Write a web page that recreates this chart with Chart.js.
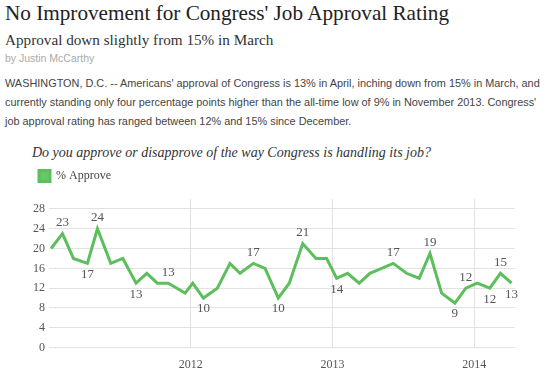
<!DOCTYPE html>
<html>
<head>
<meta charset="utf-8">
<script src="https://cdn.jsdelivr.net/npm/chart.js@4.4.1/dist/chart.umd.min.js"></script>
<style>
  html, body { margin: 0; padding: 0; background: #fff; }
  body { width: 545px; height: 383px; position: relative; overflow: hidden; }
  #title { position: absolute; left: 5px; top: 1px; font-family: "Liberation Serif", serif; font-size: 21.2px; color: #222; white-space: nowrap; }
  #sub { position: absolute; left: 5px; top: 31px; font-family: "Liberation Serif", serif; font-size: 15.2px; color: #333; white-space: nowrap; }
  #by { position: absolute; left: 5px; top: 52px; font-family: "Liberation Sans", sans-serif; font-size: 10.5px; color: #aaa; white-space: nowrap; }
  #para { position: absolute; left: 5px; top: 74px; font-family: "Liberation Sans", sans-serif; font-size: 10.9px; line-height: 19px; color: #444; white-space: nowrap; }
  #q { position: absolute; left: 32px; top: 145px; font-family: "Liberation Serif", serif; font-style: italic; font-size: 14px; color: #333; white-space: nowrap; }
  #wrap { position: absolute; left: 0; top: 153px; width: 545px; height: 230px; }
</style>
</head>
<body>
<div id="title">No Improvement for Congress' Job Approval Rating</div>
<div id="sub">Approval down slightly from 15% in March</div>
<div id="by">by Justin McCarthy</div>
<div id="para">WASHINGTON, D.C. -- Americans' approval of Congress is 13% in April, inching down from 15% in March, and<br>currently standing only four percentage points higher than the all-time low of 9% in November 2013. Congress'<br>job approval rating has ranged between 12% and 15% since December.</div>
<div id="q">Do you approve or disapprove of the way Congress is handling its job?</div>
<div id="wrap"><canvas id="c" width="545" height="230"></canvas></div>
<script>
// Poll dates as months since Jan 1, 2011 (fractional)
const pollMonths = [0.18, 1.14, 2.07, 3.25, 4.10, 5.23, 6.25, 7.37, 8.28, 9.17, 10.10, 11.52,
  12.17, 13.07, 14.25, 15.32, 16.17, 17.30, 18.29, 19.41, 20.34, 21.48, 22.60, 23.50,
  24.35, 25.28, 26.26, 27.17, 28.16, 29.14, 30.27, 31.34, 32.25, 33.24, 34.36, 35.29,
  36.25, 37.32, 38.22, 39.16];
const approve = [20, 23, 18, 17, 24, 17, 18, 13, 15, 13, 13, 11,
  13, 10, 12, 17, 15, 17, 16, 10, 13, 21, 18, 18,
  14, 15, 13, 15, 16, 17, 15, 14, 19, 11, 9, 12,
  13, 12, 15, 13];
const labeledIdx  = [1, 3, 4, 7, 10, 13, 17, 19, 21, 24, 29, 32, 34, 35, 37, 38, 39];
const labeledSide = ['up','down','up','down','up','down','up','down','up','down','up','up','down','up','down','up','down'];
const yearTickValues = [12, 24, 36];
const yearTickLabels = ['2012', '2013', '2014'];
const yTickValues = [0, 4, 8, 12, 16, 20, 24, 28];

const green = 'rgb(92,190,92)';

const pointLabels = {
  id: 'pointLabels',
  afterDatasetsDraw(chart) {
    const ctx = chart.ctx;
    const meta = chart.getDatasetMeta(0);
    ctx.save();
    ctx.font = '13px "Liberation Serif", serif';
    ctx.fillStyle = '#555';
    ctx.textAlign = 'center';
    ctx.textBaseline = 'middle';
    labeledIdx.forEach((idx, k) => {
      const p = meta.data[idx];
      const dy = labeledSide[k] === 'up' ? -11 : 11;
      ctx.fillText(String(approve[idx]), p.x, p.y + dy);
    });
    ctx.restore();
  }
};

const legendGap = {
  id: 'legendGap',
  beforeLayout(chart) {
    const lg = chart.legend;
    if (lg && !lg._gapPatched) {
      const orig = lg.fit;
      lg.fit = function () { orig.call(this); this.height += 7; };
      lg._gapPatched = true;
    }
  }
};

new Chart(document.getElementById('c'), {
  type: 'line',
  data: {
    datasets: [{
      label: '% Approve',
      data: pollMonths.map((m, i) => ({ x: m, y: approve[i] })),
      borderColor: green,
      backgroundColor: 'rgb(102,199,102)',
      borderWidth: 3,
      pointRadius: 0,
      tension: 0,
      fill: false
    }]
  },
  options: {
    responsive: false,
    animation: false,
    layout: { padding: { left: 22, right: 30, top: 0, bottom: 1 } },
    plugins: {
      legend: {
        display: true,
        align: 'start',
        labels: {
          boxWidth: 11, boxHeight: 11, padding: 17,
          color: '#444',
          font: { family: '"Liberation Serif", serif', size: 12 }
        }
      },
      tooltip: { enabled: false }
    },
    scales: {
      x: {
        type: 'linear',
        min: 0, max: 39.45,
        afterBuildTicks(scale) { scale.ticks = yearTickValues.map(v => ({ value: v })); },
        ticks: {
          callback(v) { const i = yearTickValues.indexOf(v); return i >= 0 ? yearTickLabels[i] : ''; },
          color: '#555', padding: 10,
          font: { family: '"Liberation Serif", serif', size: 12 },
          maxRotation: 0, autoSkip: false
        },
        grid: { color: '#e2e2e2', drawTicks: false, lineWidth: 1 },
        border: { display: false }
      },
      y: {
        min: 0, max: 30,
        afterBuildTicks(scale) { scale.ticks = yTickValues.map(v => ({ value: v })); },
        afterFit(scale) { scale.width = 27; },
        ticks: {
          color: '#555', padding: 4,
          font: { family: '"Liberation Serif", serif', size: 12 }
        },
        grid: { color: '#e2e2e2', drawTicks: false, lineWidth: 1 },
        border: { display: false }
      }
    }
  },
  plugins: [legendGap, pointLabels]
});
</script>
</body>
</html>
